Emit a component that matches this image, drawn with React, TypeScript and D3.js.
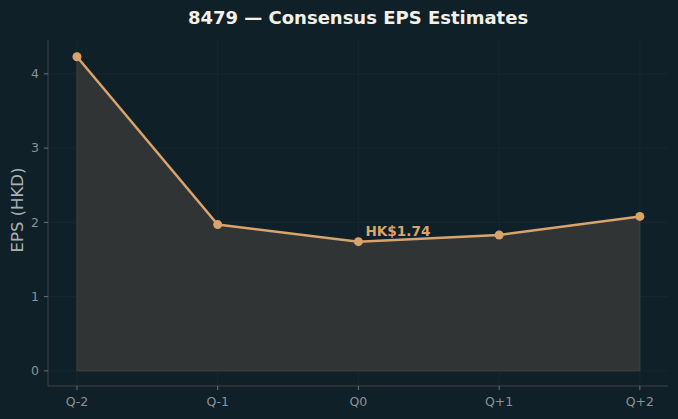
import React from "react";
import * as d3 from "d3";

const quarters = ["Q-2", "Q-1", "Q0", "Q+1", "Q+2"];
const epsValues = [4.23, 1.97, 1.74, 1.83, 2.08];
const yTicks = [0, 1, 2, 3, 4];
const highlightIndex = 2;

export default function App() {
  const totalWidth = 678;
  const totalHeight = 419;
  const margin = { left: 48, right: 10, top: 40, bottom: 33 };
  const width = totalWidth - margin.left - margin.right;
  const height = totalHeight - margin.top - margin.bottom;

  const xScale = d3.scaleLinear().domain([-0.206, 4.2]).range([0, width]);
  const yScale = d3.scaleLinear().domain([-0.204, 4.456]).range([height, 0]);

  const points = epsValues.map((v, i) => ({ x: i, y: v }));

  const line = d3
    .line<{ x: number; y: number }>()
    .x((d) => xScale(d.x))
    .y((d) => yScale(d.y));

  const area = d3
    .area<{ x: number; y: number }>()
    .x((d) => xScale(d.x))
    .y0(yScale(0))
    .y1((d) => yScale(d.y));

  const font = "'DejaVu Sans', sans-serif";
  const accent = "#d9a46c";

  return (
    <svg
      width={totalWidth}
      height={totalHeight}
      style={{ position: "absolute", left: 0, top: 0, background: "#0f2027" }}
    >
      <rect width={totalWidth} height={totalHeight} fill="#102028" />
      <text
        x={358}
        y={24}
        textAnchor="middle"
        style={{ fontFamily: font, fontSize: 18, fontWeight: "bold", fill: "#f3f0e8" }}
      >
        8479 — Consensus EPS Estimates
      </text>

      <g transform={`translate(${margin.left}, ${margin.top})`}>
        {/* grid */}
        {yTicks.map((t) => (
          <line
            key={"gy" + t}
            x1={0}
            x2={width}
            y1={yScale(t)}
            y2={yScale(t)}
            stroke="#1b2a31"
            strokeWidth={0.8}
          />
        ))}
        {quarters.map((q, i) => (
          <line
            key={"gx" + q}
            x1={xScale(i)}
            x2={xScale(i)}
            y1={0}
            y2={height}
            stroke="#1b2a31"
            strokeWidth={0.8}
          />
        ))}

        <path d={area(points) ?? ""} fill="#303434" stroke="#3f4442" strokeWidth={1} />
        <path d={line(points) ?? ""} fill="none" stroke={accent} strokeWidth={2.5} />
        {points.map((p, i) => (
          <circle key={i} cx={xScale(p.x)} cy={yScale(p.y)} r={4.5} fill={accent} />
        ))}
        <text
          x={xScale(highlightIndex) + 7}
          y={yScale(epsValues[highlightIndex]) - 6}
          style={{ fontFamily: font, fontSize: 13.6, fontWeight: "bold", fill: accent }}
        >
          HK${epsValues[highlightIndex].toFixed(2)}
        </text>

        {/* spines */}
        <line x1={0} x2={0} y1={0} y2={height} stroke="#3b4244" strokeWidth={1} />
        <line x1={0} x2={width} y1={height} y2={height} stroke="#3b4244" strokeWidth={1} />

        {/* y ticks */}
        {yTicks.map((t) => (
          <g key={"ty" + t} transform={`translate(0, ${yScale(t)})`}>
            <line x1={-4} x2={0} stroke="#6d7678" />
            <text
              x={-9}
              dy="0.35em"
              textAnchor="end"
              style={{ fontFamily: font, fontSize: 12.5, fill: "#8a9395" }}
            >
              {t}
            </text>
          </g>
        ))}

        {/* x ticks */}
        {quarters.map((q, i) => (
          <g key={"tx" + q} transform={`translate(${xScale(i)}, ${height})`}>
            <line y1={0} y2={4} stroke="#6d7678" />
            <text
              y={20}
              textAnchor="middle"
              style={{ fontFamily: font, fontSize: 12.5, fill: "#8a9395" }}
            >
              {q}
            </text>
          </g>
        ))}

        <text
          transform={`translate(${-25}, ${height / 2 - 3}) rotate(-90)`}
          textAnchor="middle"
          style={{ fontFamily: font, fontSize: 16.5, fill: "#aab1b3" }}
        >
          EPS (HKD)
        </text>
      </g>
    </svg>
  );
}
